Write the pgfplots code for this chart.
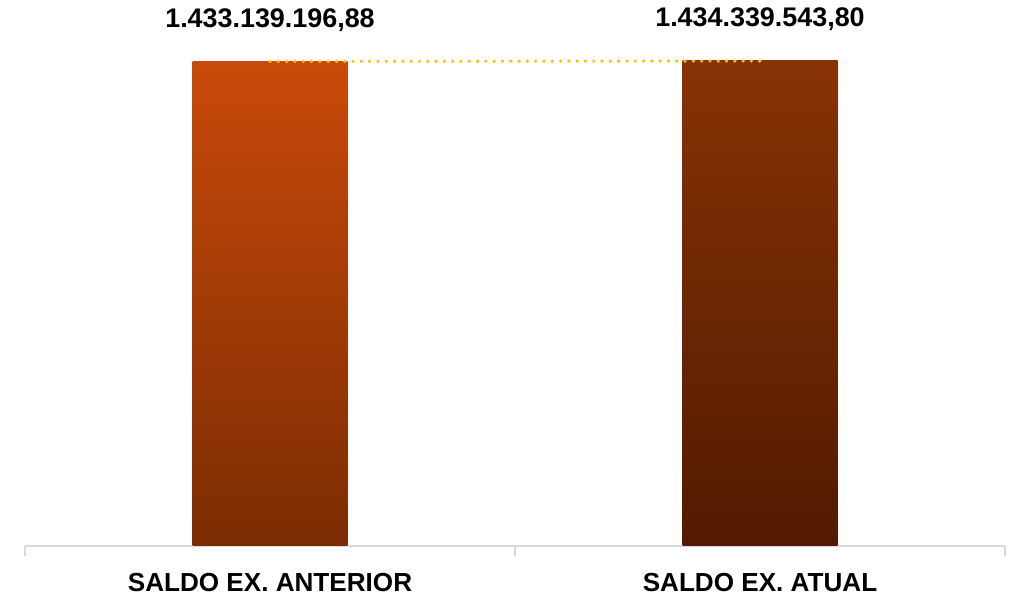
\documentclass[border=0pt]{standalone}
\usepackage{pgfplots}
\pgfplotsset{compat=1.18}
\usepackage{fontspec}
\setmainfont{Liberation Sans}

\definecolor{antTop}{HTML}{C94A0A}
\definecolor{antBot}{HTML}{7B2C02}
\definecolor{atuTop}{HTML}{873305}
\definecolor{atuBot}{HTML}{521A01}
\definecolor{axgray}{HTML}{D9D9D9}
\definecolor{serline}{HTML}{FFC000}

\begin{document}
\begin{tikzpicture}
\path[use as bounding box] (0,0) rectangle (1018bp,595bp);
\begin{axis}[
    at={(25bp,49bp)}, anchor=south west,
    scale only axis,
    width=980bp, height=485bp,
    xmin=-0.5, xmax=1.5,
    ymin=0, ymax=1434339543.80,
    clip=false,
    axis y line=none,
    axis x line*=bottom,
    x axis line style={draw=axgray, line width=1.5bp},
    xtick={0,1},
    xticklabels={SALDO EX. ANTERIOR, SALDO EX. ATUAL},
    major tick length=0pt,
    xticklabel style={anchor=base, yshift=-45bp, font=\fontsize{26.2}{30}\selectfont\bfseries},
    extra x ticks={-0.5,0.5,1.5},
    extra x tick labels={},
    extra x tick style={major tick length=10bp, tick align=outside,
        tick style={draw=axgray, line width=1.5bp}},
    ytick=\empty,
    nodes near coords,
    point meta=explicit symbolic,
    nodes near coords style={anchor=base, yshift=34bp, font=\fontsize{27}{30}\selectfont\bfseries, text=black},
]
\addplot[ybar, bar width=155bp, bar shift=0pt, draw=none, top color=antTop, bottom color=antBot]
    coordinates {(0,1433139196.88) [1.433.139.196,88]};
\addplot[ybar, bar width=155bp, bar shift=0pt, draw=none, top color=atuTop, bottom color=atuBot]
    coordinates {(1,1434339543.80) [1.434.339.543,80]};
% series line joining the bar tops
\addplot[sharp plot, no markers, nodes near coords=, draw=serline, line width=3.6bp, line cap=round,
    dash pattern=on 0pt off 8.3bp]
    coordinates {(0,1433139196.88) (1,1434339543.80)};
\end{axis}
\end{tikzpicture}
\end{document}
